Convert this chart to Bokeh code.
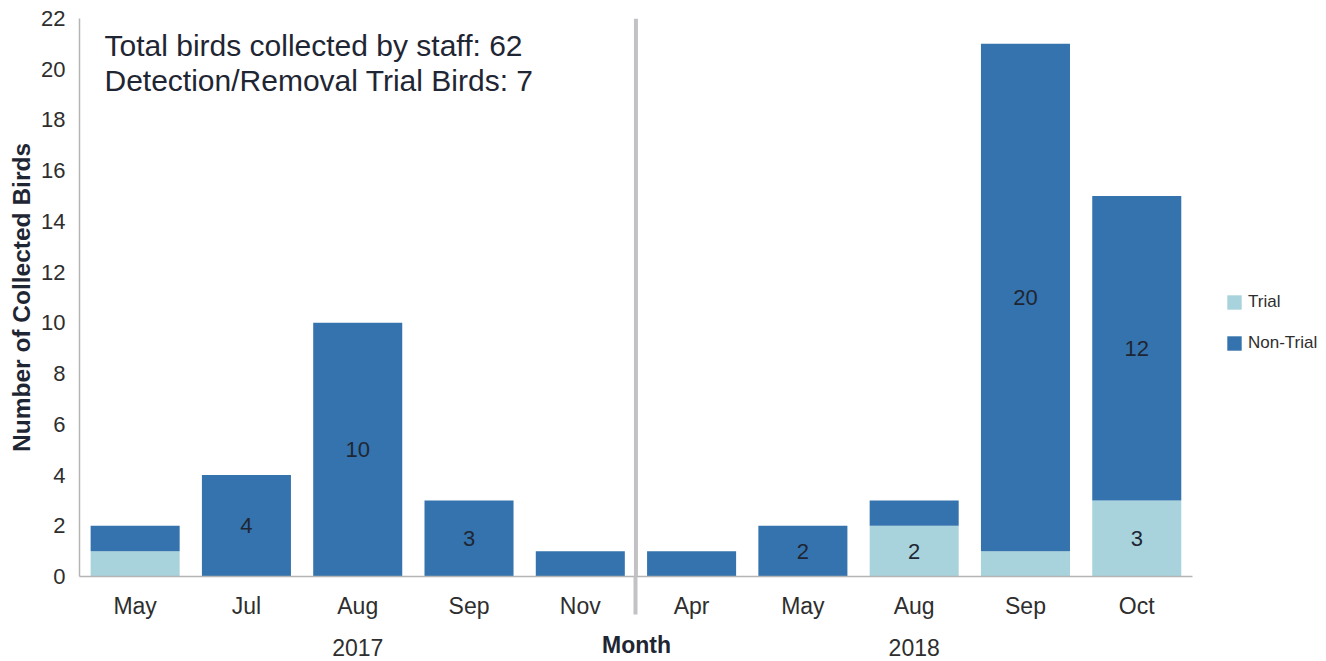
from bokeh.plotting import figure
from bokeh.models import (ColumnDataSource, Range1d, Span, Label, LinearAxis,
                          Legend, LegendItem, SingleIntervalTicker, FixedTicker)
from bokeh.core.properties import value
from bokeh.embed import file_html
from bokeh.resources import INLINE

# ---- data ----
years = ["2017", "2017", "2017", "2017", "2017", "2018", "2018", "2018", "2018", "2018"]
months = ["May", "Jul", "Aug", "Sep", "Nov", "Apr", "May", "Aug", "Sep", "Oct"]
trial = [1, 0, 0, 0, 0, 0, 0, 2, 1, 3]
non_trial = [1, 4, 10, 3, 1, 1, 2, 1, 20, 12]
year_labels = ["2017", "2018"]
summary_lines = ["Total birds collected by staff: 62", "Detection/Removal Trial Birds: 7"]

FONT = "Liberation Sans"
C_TRIAL = "#a8d3dc"
C_NON = "#3473ad"
TXT = "#1f2633"
TICK = "#2e2e2e"
SEP = "#c2c2c6"
AXC = "#b5b5b5"

n = len(months)
xc = [i + 0.5 for i in range(n)]                     # category centres
year_centres = [sum(c for c, yv in zip(xc, years) if yv == yl) /
                years.count(yl) for yl in year_labels]
split = float(years.count(year_labels[0]))          # boundary between years

src = ColumnDataSource(dict(x=xc, Trial=trial, NonTrial=non_trial))

# value labels (only segments of 2 or more)
lx, ly, lt = [], [], []
for xi, t, nt in zip(xc, trial, non_trial):
    if t >= 2:
        lx.append(xi); ly.append(t / 2); lt.append(str(t))
    if nt >= 2:
        lx.append(xi); ly.append(t + nt / 2); lt.append(str(nt))
lbl_src = ColumnDataSource(dict(x=lx, y=ly, t=lt))

p = figure(frame_width=1242, frame_height=558, output_backend="svg",
           toolbar_location=None,
           x_range=Range1d(0, 11.16), y_range=Range1d(0, 22),
           min_border_left=79, min_border_right=0, min_border_top=18,
           min_border_bottom=83)
p.outline_line_color = None
p.xgrid.visible = False
p.ygrid.visible = False

rs = p.vbar_stack(["Trial", "NonTrial"], x="x", width=0.8, color=[C_TRIAL, C_NON],
                  line_color=None, source=src)

p.text(x="x", y="y", text="t", source=lbl_src, text_align="center",
       text_baseline="middle", text_font=value(FONT), text_font_size="22px",
       text_color=TXT)

# separator between years (inside the frame)
p.add_layout(Span(location=split, dimension="height", line_color=SEP, line_width=4))

# month axis (its single minor tick continues the separator below the frame)
xa = p.xaxis[0]
xa.ticker = FixedTicker(ticks=xc, minor_ticks=[split])
xa.major_label_overrides = {c: m for c, m in zip(xc, months)}
xa.bounds = (0, n)
xa.axis_line_color = AXC
xa.axis_line_width = 1.5
xa.major_tick_line_color = None
xa.major_tick_out = 0
xa.major_tick_in = 0
xa.minor_tick_line_color = SEP
xa.minor_tick_line_width = 4
xa.minor_tick_out = 38
xa.minor_tick_in = 0
xa.major_label_text_font = FONT
xa.major_label_text_font_size = "23px"
xa.major_label_text_color = TICK
xa.major_label_standoff = -22

# year axis with axis title ("Month" padded so it sits over the bars' centre)
ya2 = LinearAxis(ticker=FixedTicker(ticks=year_centres),
                 major_label_overrides={c: yl for c, yl in zip(year_centres, year_labels)},
                 bounds=(0, n), axis_line_color=None, major_tick_line_color=None,
                 minor_tick_line_color=None, major_tick_out=0, major_tick_in=0,
                 minor_tick_out=0, minor_tick_in=0,
                 major_label_standoff=17, major_label_text_font=FONT,
                 major_label_text_font_size="23px", major_label_text_color=TICK,
                 axis_label="Month" + "\u00a0" * 20, axis_label_text_font=FONT,
                 axis_label_text_font_size="23px", axis_label_text_font_style="bold",
                 axis_label_text_color=TXT, axis_label_standoff=-27)
p.add_layout(ya2, "below")

ya = p.yaxis[0]
ya.ticker = SingleIntervalTicker(interval=2, num_minor_ticks=0)
ya.axis_line_color = AXC
ya.axis_line_width = 1.5
ya.major_tick_line_color = None
ya.minor_tick_line_color = None
ya.major_tick_out = 0
ya.minor_tick_out = 0
ya.major_label_text_font = FONT
ya.major_label_text_font_size = "22px"
ya.major_label_text_color = TICK
ya.major_label_standoff = 14
ya.axis_label = "Number of Collected Birds"
ya.axis_label_text_font = FONT
ya.axis_label_text_font_size = "24.5px"
ya.axis_label_text_font_style = "bold"
ya.axis_label_text_color = TXT
ya.axis_label_standoff = 3

# summary text (x in screen px from frame left, y in data units)
for line, yy in zip(summary_lines, [20.95, 19.55]):
    p.add_layout(Label(x=25, y=yy, x_units="screen", y_units="data", text=line,
                       text_align="left", text_baseline="middle", text_font=FONT,
                       text_font_size="30px", text_color=TXT))

legend = Legend(items=[LegendItem(label="Trial", renderers=[rs[0]]),
                       LegendItem(label="Non-Trial", renderers=[rs[1]])],
                location=(1146, 223), glyph_width=18, glyph_height=18,
                label_height=18, spacing=21, padding=0, margin=0,
                border_line_color=None, background_fill_alpha=0,
                label_text_font=FONT, label_text_font_size="17px",
                label_text_color=TICK, label_standoff=5)
p.add_layout(legend)

open("out.html", "w").write(file_html(p, INLINE))
